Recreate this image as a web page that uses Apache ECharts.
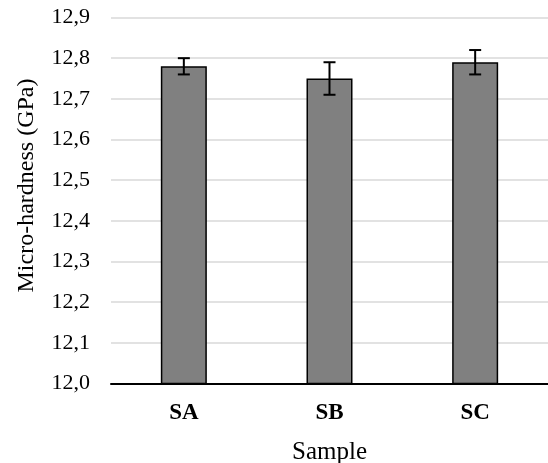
<!DOCTYPE html>
<html>
<head>
<meta charset="utf-8">
<script src="https://cdn.jsdelivr.net/npm/echarts@6/dist/echarts.min.js"></script>
<style>html,body{margin:0;padding:0;background:#fff;}#c{width:548px;height:463px;}</style>
</head>
<body>
<div id="c"></div>
<script>
var categories = ['SA', 'SB', 'SC'];
var hardness = [12.78, 12.75, 12.79];
var errors = [0.02, 0.04, 0.03];
var yTicks = [12.0, 12.1, 12.2, 12.3, 12.4, 12.5, 12.6, 12.7, 12.8, 12.9];

var chart = echarts.init(document.getElementById('c'));
var font = '"Liberation Serif", "Times New Roman", serif';
var errData = categories.map(function (c, i) { return [i, hardness[i] - errors[i], hardness[i] + errors[i]]; });

chart.setOption({
  animation: false,
  grid: { left: 111, right: 0, top: 17.5, bottom: 79.5, containLabel: false, outerBoundsMode: 'none' },
  xAxis: {
    type: 'category',
    data: categories,
    name: 'Sample',
    nameLocation: 'middle',
    nameGap: 56,
    nameTextStyle: { fontFamily: font, fontSize: 25, color: '#000' },
    axisLine: { lineStyle: { color: '#000', width: 2 } },
    axisTick: { show: false },
    axisLabel: { fontFamily: font, fontSize: 23, fontWeight: 'bold', color: '#000', margin: 18 }
  },
  yAxis: {
    type: 'value',
    min: 12.0,
    max: 12.9,
    interval: 0.1,
    name: 'Micro-hardness (GPa)',
    nameLocation: 'middle',
    nameGap: 72,
    nameTextStyle: { fontFamily: font, fontSize: 24, color: '#000', padding: [0, 0, 0, 30] },
    axisLine: { show: false },
    axisTick: { show: false },
    splitLine: { lineStyle: { color: '#d9d9d9', width: 1.5 } },
    axisLabel: {
      fontFamily: font, fontSize: 22, color: '#000', margin: 21,
      formatter: function (v) { return v.toFixed(1).replace('.', ','); }
    }
  },
  series: [
    {
      type: 'bar',
      data: hardness,
      barWidth: 46,
      itemStyle: { color: '#808080', borderColor: '#000', borderWidth: 1.5 }
    },
    {
      type: 'custom',
      data: errData,
      z: 10,
      renderItem: function (params, api) {
        var x = api.value(0);
        var lo = api.coord([x, api.value(1)]);
        var hi = api.coord([x, api.value(2)]);
        var hw = 6;
        var st = { stroke: '#000', lineWidth: 2 };
        return {
          type: 'group',
          children: [
            { type: 'line', shape: { x1: lo[0], y1: lo[1], x2: hi[0], y2: hi[1] }, style: st },
            { type: 'line', shape: { x1: hi[0] - hw, y1: hi[1], x2: hi[0] + hw, y2: hi[1] }, style: st },
            { type: 'line', shape: { x1: lo[0] - hw, y1: lo[1], x2: lo[0] + hw, y2: lo[1] }, style: st }
          ]
        };
      }
    }
  ]
});
</script>
</body>
</html>
